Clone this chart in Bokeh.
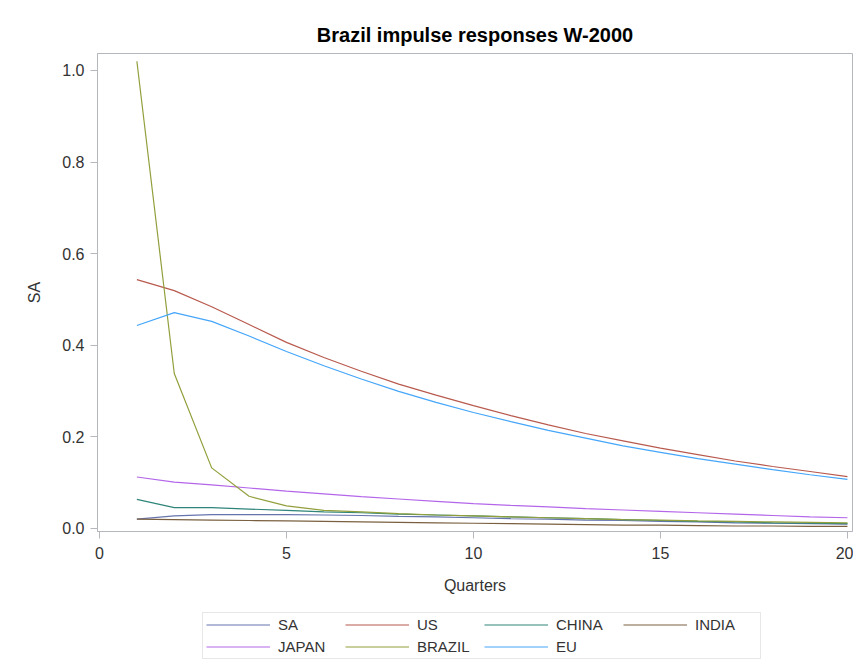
from bokeh.plotting import figure
from bokeh.layouts import column
from bokeh.models import Legend, LegendItem, Range1d, FixedTicker
from bokeh.embed import file_html
from bokeh.resources import INLINE

quarters = list(range(1, 21))
sa = [0.020, 0.027, 0.030, 0.030, 0.030, 0.029, 0.028, 0.026, 0.025, 0.023,
      0.021, 0.020, 0.018, 0.017, 0.015, 0.014, 0.012, 0.011, 0.010, 0.009]
us = [0.543, 0.519, 0.484, 0.445, 0.406, 0.373, 0.343, 0.315, 0.291, 0.268,
      0.246, 0.226, 0.207, 0.191, 0.175, 0.161, 0.147, 0.135, 0.124, 0.113]
china = [0.063, 0.045, 0.045, 0.042, 0.039, 0.036, 0.034, 0.031, 0.029, 0.027,
         0.025, 0.023, 0.021, 0.019, 0.017, 0.015, 0.014, 0.012, 0.011, 0.010]
india = [0.020, 0.019, 0.018, 0.017, 0.016, 0.015, 0.014, 0.013, 0.012, 0.011,
         0.010, 0.009, 0.008, 0.007, 0.007, 0.006, 0.005, 0.005, 0.004, 0.004]
japan = [0.112, 0.101, 0.095, 0.088, 0.081, 0.075, 0.069, 0.064, 0.059, 0.054,
         0.050, 0.047, 0.043, 0.040, 0.037, 0.034, 0.031, 0.028, 0.025, 0.023]
brazil = [1.020, 0.338, 0.132, 0.070, 0.049, 0.039, 0.036, 0.032, 0.029, 0.027,
          0.025, 0.023, 0.021, 0.019, 0.018, 0.016, 0.015, 0.014, 0.013, 0.012]
eu = [0.443, 0.471, 0.452, 0.420, 0.386, 0.355, 0.326, 0.299, 0.275, 0.253,
      0.233, 0.214, 0.197, 0.180, 0.166, 0.152, 0.140, 0.128, 0.117, 0.107]

series_names = ["SA", "US", "CHINA", "INDIA", "JAPAN", "BRAZIL", "EU"]
series_values = [sa, us, china, india, japan, brazil, eu]
colors = ["#6674ad", "#b85a4e", "#2f8579", "#7a6040", "#b466ea", "#929f3c", "#45a6fa"]

x_ticks = [0, 5, 10, 15, 20]
y_ticks = [0.0, 0.2, 0.4, 0.6, 0.8, 1.0]

FONT = "Liberation Sans"
GRAY = "#b4b8bc"

p = figure(width=853, height=600, output_backend="svg",
           toolbar_location=None,
           x_range=Range1d(-0.053, 20.135), y_range=Range1d(-0.007, 1.037),
           min_border_left=97, min_border_right=1, min_border_top=53,
           min_border_bottom=69, background_fill_color="white",
           border_fill_color="white")

p.title.text = "Brazil impulse responses W-2000"
p.title.align = "center"
p.title.text_font = FONT
p.title.text_font_size = "20px"
p.title.text_font_style = "bold"
p.title.text_color = "#000000"
p.title.standoff = 15

p.xgrid.visible = False
p.ygrid.visible = False
p.outline_line_color = GRAY
p.outline_line_width = 1

for ax in (p.xaxis[0], p.yaxis[0]):
    ax.axis_line_color = GRAY
    ax.major_tick_line_color = GRAY
    ax.minor_tick_line_color = None
    ax.major_tick_in = 0
    ax.major_tick_out = 7
    ax.major_label_text_font = FONT
    ax.major_label_text_font_size = "16px"
    ax.major_label_text_color = "#333333"
    ax.axis_label_text_font = FONT
    ax.axis_label_text_font_size = "16px"
    ax.axis_label_text_font_style = "normal"
    ax.axis_label_text_color = "#333333"

p.xaxis.ticker = FixedTicker(ticks=x_ticks)
p.yaxis.ticker = FixedTicker(ticks=y_ticks)
p.yaxis.major_label_overrides = {t: f"{t:.1f}" for t in y_ticks}
p.xaxis.axis_label = "Quarters"
p.yaxis.axis_label = "SA"
p.xaxis.major_label_standoff = 8
p.xaxis.axis_label_standoff = 15
p.yaxis.major_label_standoff = 6
p.yaxis.axis_label_standoff = 16

for name, vals, col in zip(series_names, series_values, colors):
    p.line(quarters, vals, line_color=col, line_width=1.2)

# legend panel below the chart: same series drawn off-view, only the legend shows
lp = figure(width=853, height=62, output_backend="svg", toolbar_location=None,
            x_range=Range1d(100, 101), y_range=Range1d(100, 101),
            min_border=0, outline_line_color=None,
            background_fill_color="white", border_fill_color="white")
lp.axis.visible = False
lp.xgrid.visible = False
lp.ygrid.visible = False

items = []
for name, vals, col in zip(series_names, series_values, colors):
    r = lp.line(quarters, vals, line_color=col, line_width=1.2)
    items.append(LegendItem(label=name, renderers=[r]))

legend = Legend(items=items, orientation="horizontal", ncols=4,
                location=(105, 3), glyph_width=64, glyph_height=15,
                label_height=15, label_width=62, label_standoff=8,
                spacing=5, padding=3, margin=0,
                label_text_font=FONT, label_text_font_size="15px",
                label_text_color="#333333", border_line_color="#d0d0d0",
                border_line_width=1, background_fill_alpha=1)
lp.add_layout(legend, "center")

layout = column(p, lp, spacing=0)
open("out.html", "w").write(file_html(layout, INLINE))
